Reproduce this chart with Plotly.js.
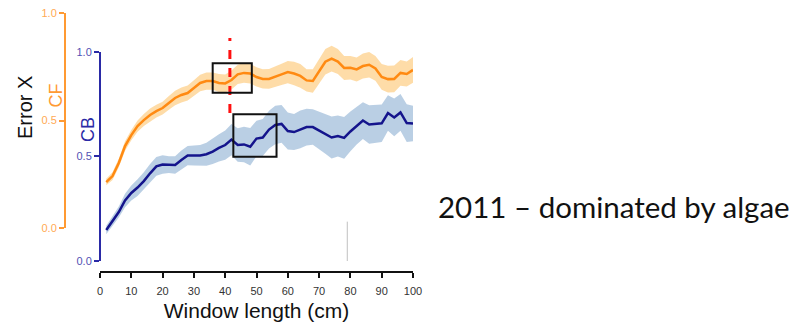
<!DOCTYPE html>
<html>
<head>
<meta charset="utf-8">
<script src="https://cdn.plot.ly/plotly-3.0.1.min.js"></script>
<style>html,body{margin:0;padding:0;background:#fff;}#chart{width:800px;height:322px;}</style>
</head>
<body>
<div id="chart"></div>
<script>
// Window length (cm)
const windowLength = [2,4,6,8,10,12,14,16,18,20,22,24,26,28,30,32,34,36,38,40,42,44,46,48,50,52,54,56,58,60,62,64,66,68,70,72,74,76,78,80,82,84,86,88,90,92,94,96,98,100];
// CF series (orange, error axis "CF")
const cfMean = [0.213,0.241,0.302,0.381,0.432,0.474,0.502,0.526,0.544,0.558,0.582,0.605,0.619,0.628,0.652,0.675,0.684,0.684,0.675,0.673,0.689,0.715,0.722,0.719,0.703,0.694,0.694,0.703,0.715,0.726,0.719,0.708,0.687,0.684,0.729,0.774,0.789,0.775,0.745,0.746,0.738,0.754,0.760,0.743,0.703,0.693,0.694,0.722,0.717,0.736];
const cfSpread = [0.015,0.018,0.020,0.022,0.024,0.026,0.028,0.030,0.030,0.030,0.032,0.034,0.035,0.035,0.036,0.038,0.040,0.040,0.042,0.042,0.044,0.045,0.046,0.046,0.045,0.045,0.046,0.048,0.050,0.052,0.055,0.055,0.052,0.055,0.058,0.060,0.060,0.058,0.056,0.055,0.056,0.058,0.060,0.058,0.060,0.062,0.062,0.060,0.058,0.060];
// CB series (navy)
const cbMean = [0.148,0.189,0.234,0.289,0.325,0.351,0.382,0.419,0.452,0.461,0.461,0.459,0.483,0.504,0.504,0.504,0.510,0.523,0.540,0.554,0.580,0.554,0.557,0.546,0.585,0.590,0.628,0.650,0.655,0.621,0.616,0.629,0.640,0.640,0.624,0.607,0.590,0.597,0.588,0.619,0.647,0.671,0.652,0.655,0.658,0.707,0.686,0.710,0.659,0.657];
const cbSpread = [0.020,0.022,0.026,0.032,0.036,0.040,0.042,0.045,0.045,0.044,0.040,0.042,0.045,0.046,0.048,0.050,0.055,0.060,0.065,0.070,0.075,0.080,0.085,0.090,0.085,0.088,0.090,0.092,0.090,0.088,0.086,0.090,0.088,0.085,0.090,0.095,0.100,0.098,0.100,0.095,0.090,0.088,0.092,0.090,0.090,0.085,0.090,0.088,0.090,0.085];
// Axis ticks
const xTicks = [0,10,20,30,40,50,60,70,80,90,100];
const yTickVals = [0,0.5,1];
const yTickText = ['0.0','0.5','1.0'];
// Markers drawn on the chart
const optimumWindow = 41.5;            // red dashed line
const cfBox = {x: [36, 48.5], y: [0.630, 0.767]};
const cbBox = {x: [42.6, 56.4], y: [0.498, 0.701]};
const grayMark = {x: 79, y: [0, 0.188]};
const caption = '2011 \u2013 dominated by algae';

function band(xs, m, s) {
  const up = m.map((v, i) => v + s[i]);
  const lo = m.map((v, i) => v - s[i]);
  return {x: xs.concat(xs.slice().reverse()), y: up.concat(lo.slice().reverse())};
}
const cfBand = band(windowLength, cfMean, cfSpread);
const cbBand = band(windowLength, cbMean, cbSpread);

const orange = '#ff8a12', orangeFill = 'rgba(253,196,110,0.6)';
const navy = '#14148c', navyFill = 'rgba(140,175,210,0.6)';

const data = [
  {x: cbBand.x, y: cbBand.y, xaxis: 'x', yaxis: 'y', fill: 'toself', fillcolor: navyFill, line: {width: 0}, mode: 'lines', hoverinfo: 'skip', showlegend: false},
  {x: cfBand.x, y: cfBand.y, xaxis: 'x', yaxis: 'y2', fill: 'toself', fillcolor: orangeFill, line: {width: 0}, mode: 'lines', hoverinfo: 'skip', showlegend: false},
  {x: windowLength, y: cbMean, xaxis: 'x', yaxis: 'y', mode: 'lines', line: {color: navy, width: 2.5}, showlegend: false},
  {x: windowLength, y: cfMean, xaxis: 'x', yaxis: 'y2', mode: 'lines', line: {color: orange, width: 2.5}, showlegend: false}
];

const W = 800, H = 322;
const px = v => v / W, py = v => (H - v) / H;

const layout = {
  width: W, height: H,
  margin: {l: 0, r: 0, t: 0, b: 0},
  paper_bgcolor: '#fff', plot_bgcolor: 'rgba(0,0,0,0)',
  font: {family: 'Liberation Sans, Arial, sans-serif'},
  showlegend: false,
  xaxis: {
    domain: [px(100), px(413)], range: [0, 100], anchor: 'free', position: py(272),
    showline: true, linecolor: '#111', linewidth: 2,
    ticks: 'outside', ticklen: 5, tickwidth: 2, tickcolor: '#111',
    tickvals: xTicks, tickfont: {size: 11, color: '#333'}, ticklabelstandoff: 4,
    showgrid: false, zeroline: false,
    title: {text: 'Window length (cm)', font: {size: 21, color: '#111'}, standoff: 8}
  },
  yaxis: {
    domain: [py(261), py(51.7)], range: [0, 1], anchor: 'free', position: px(100),
    showline: true, linecolor: '#2a2aa6', linewidth: 2,
    ticks: 'outside', ticklen: 5, tickwidth: 2, tickcolor: '#2a2aa6',
    tickvals: yTickVals, ticktext: yTickText, tickfont: {size: 11, color: '#5252b4'},
    showgrid: false, zeroline: false
  },
  yaxis2: {
    domain: [py(227.7), py(13.3)], range: [0, 1], anchor: 'free', position: px(65),
    showline: true, linecolor: '#ff9a33', linewidth: 2,
    ticks: 'outside', ticklen: 5, tickwidth: 2, tickcolor: '#ff9a33',
    tickvals: yTickVals, ticktext: yTickText, tickfont: {size: 11, color: '#ffaa55'},
    showgrid: false, zeroline: false
  },
  shapes: [
    {type: 'line', xref: 'x', yref: 'y2', x0: optimumWindow, x1: optimumWindow, y0: 0.535, y1: 0.885, line: {color: '#ff1010', width: 3, dash: 'dash'}},
    {type: 'rect', xref: 'x', yref: 'y2', x0: cfBox.x[0], x1: cfBox.x[1], y0: cfBox.y[0], y1: cfBox.y[1], line: {color: '#111', width: 2}},
    {type: 'rect', xref: 'x', yref: 'y', x0: cbBox.x[0], x1: cbBox.x[1], y0: cbBox.y[0], y1: cbBox.y[1], line: {color: '#111', width: 2}},
    {type: 'line', xref: 'x', yref: 'y', x0: grayMark.x, x1: grayMark.x, y0: grayMark.y[0], y1: grayMark.y[1], line: {color: '#c0c0c0', width: 1}}
  ],
  annotations: [
    {text: 'Error X', xref: 'paper', yref: 'paper', x: px(25), y: py(108), textangle: -90, showarrow: false, font: {size: 20, color: '#111'}, xanchor: 'center', yanchor: 'middle'},
    {text: 'CF', xref: 'paper', yref: 'paper', x: px(55), y: py(95.5), textangle: -90, showarrow: false, font: {size: 18, color: '#ff9a33'}, xanchor: 'center', yanchor: 'middle'},
    {text: 'CB', xref: 'paper', yref: 'paper', x: px(88), y: py(130), textangle: -90, showarrow: false, font: {size: 18, color: '#2a2aa6'}, xanchor: 'center', yanchor: 'middle'},
    {text: caption, xref: 'paper', yref: 'paper', x: px(614), y: py(206), showarrow: false, font: {size: 29.5, color: '#111', family: 'Lato, sans-serif'}, xanchor: 'center', yanchor: 'middle'}
  ]
};

Plotly.newPlot('chart', data, layout, {staticPlot: true, displayModeBar: false});
</script>
</body>
</html>
